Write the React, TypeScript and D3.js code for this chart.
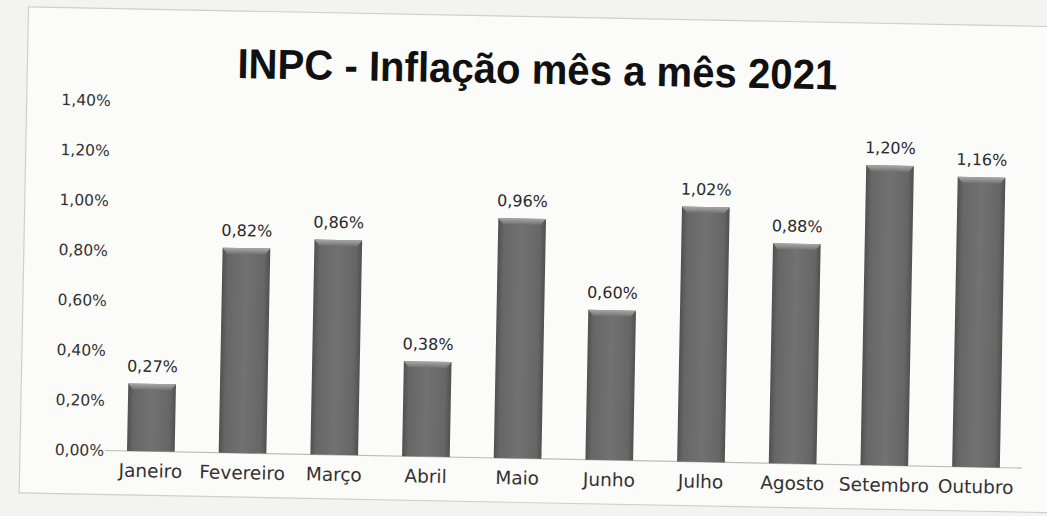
import React from "react";
import * as d3 from "d3";

const categories = ["Janeiro", "Fevereiro", "Março", "Abril", "Maio", "Junho", "Julho", "Agosto", "Setembro", "Outubro"];
const values = [0.27, 0.82, 0.86, 0.38, 0.96, 0.6, 1.02, 0.88, 1.2, 1.16];
const yTicks = [0, 0.2, 0.4, 0.6, 0.8, 1.0, 1.2, 1.4];
const title = "INPC - Inflação mês a mês 2021";

const W = 1047;
const H = 516;
const fmt = (v: number) => v.toFixed(2).replace(".", ",") + "%";

export default function App() {
  const pivotX = 80;
  const pivotY = 450;
  const x = d3.scaleBand<string>().domain(categories).range([105, 1022]).paddingInner(0.48).paddingOuter(0.24);
  const y = d3.scaleLinear().domain([0, 1.4]).range([450, 100]);
  const font = "'DejaVu Sans', Verdana, sans-serif";
  return (
    <svg width={W} height={H} style={{ position: "absolute", left: 0, top: 0, background: "#f3f3f1" }}>
      <defs>
        <linearGradient id="barG" x1="0" x2="1" y1="0" y2="0">
          <stop offset="0" stopColor="#505050" />
          <stop offset="0.12" stopColor="#666" />
          <stop offset="0.5" stopColor="#727272" />
          <stop offset="0.88" stopColor="#666" />
          <stop offset="1" stopColor="#505050" />
        </linearGradient>
        <linearGradient id="topG" x1="0" x2="0" y1="0" y2="1">
          <stop offset="0" stopColor="#a8a8a8" />
          <stop offset="1" stopColor="#727272" />
        </linearGradient>
      </defs>
      <g transform={`rotate(1.1, ${pivotX}, ${pivotY})`}>
        <rect x={20} y={8} width={1060} height={486} fill="#fbfbfa" stroke="#cfcfcf" strokeWidth={1.2} />
        <text x={530} y={75} textAnchor="middle" fontFamily="'Liberation Sans', Arial, sans-serif" fontWeight="bold" fontSize={42} textLength={600} lengthAdjust="spacingAndGlyphs" fill="#111">
          {title}
        </text>
        {yTicks.map((t) => (
          <text key={t} x={104} y={y(t)} dy="0.35em" textAnchor="end" fontFamily={font} fontSize={15.5} fill="#333">
            {fmt(t)}
          </text>
        ))}
        <line x1={105} x2={1022} y1={y(0)} y2={y(0)} stroke="#bbb" strokeWidth={1.2} />
        {categories.map((c, i) => {
          const bx = x(c)!;
          const bw = x.bandwidth();
          const top = y(values[i]);
          const h = y(0) - top;
          return (
            <g key={c}>
              <rect x={bx} y={top} width={bw} height={h} fill="url(#barG)" />
              <path d={`M${bx},${top} L${bx + bw},${top} L${bx + bw - 5},${top + 6} L${bx + 5},${top + 6} Z`} fill="url(#topG)" />
              <text x={bx + bw / 2} y={top - 12} textAnchor="middle" fontFamily={font} fontSize={16} fill="#2a2a2a">
                {fmt(values[i])}
              </text>
              <text x={bx + bw / 2} y={y(0) + 26} textAnchor="middle" fontFamily={font} fontSize={18.5} fill="#333">
                {c}
              </text>
            </g>
          );
        })}
      </g>
    </svg>
  );
}
